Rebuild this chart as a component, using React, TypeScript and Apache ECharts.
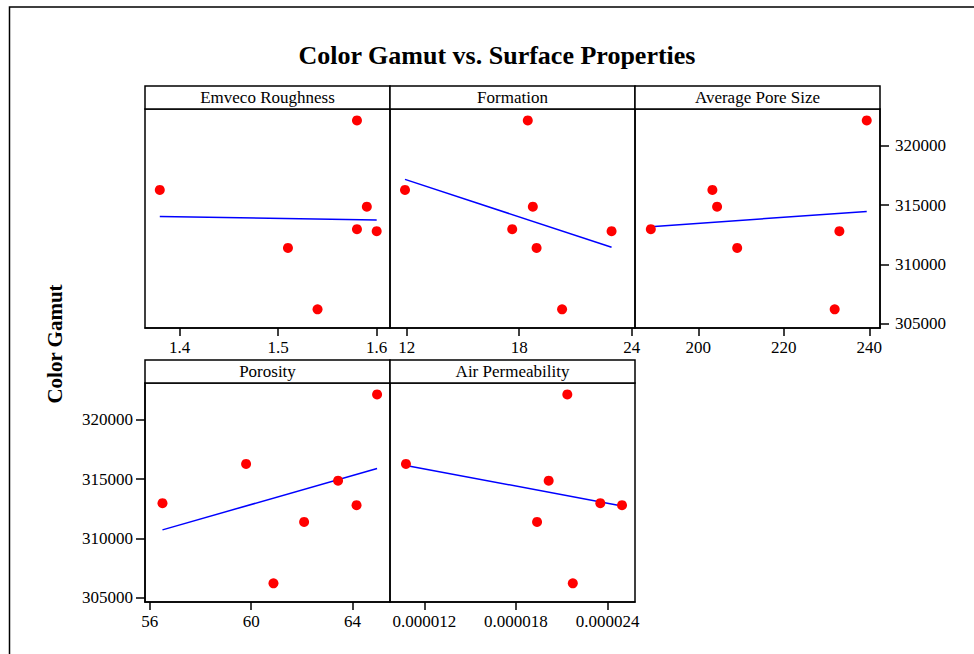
import React, { useEffect, useRef } from "react";
import * as echarts from "echarts";

// Response values (one per observation)
const colorGamut = [322120, 316270, 314860, 312970, 312800, 311390, 306220];

// Predictor values (same observation order)
const emvecoRoughness = [1.58, 1.38, 1.59, 1.58, 1.6, 1.51, 1.54];
const formation = [18.46, 11.91, 18.73, 17.63, 22.93, 18.93, 20.29];
const averagePoreSize = [239.4, 203.3, 204.4, 188.9, 233.0, 209.1, 231.9];
const porosity = [64.97, 59.8, 63.43, 56.5, 64.16, 62.09, 60.88];
const airPermeability = [0.00002136, 0.0000108, 0.00002014, 0.00002352, 0.00002494, 0.00001938, 0.00002172];

// Fitted line end points
const fitEmveco = [[1.38, 314040], [1.6, 313730]];
const fitFormation = [[11.91, 317160], [22.93, 311440]];
const fitPore = [[188.9, 313170], [239.4, 314460]];
const fitPorosity = [[56.5, 310720], [64.97, 315890]];
const fitAir = [[0.0000108, 316140], [0.00002494, 312730]];

// Panel names and tick labels
const panelNames = ["Emveco Roughness", "Formation", "Average Pore Size", "Porosity", "Air Permeability"];
const ticksEmveco = [1.4, 1.5, 1.6];
const ticksFormation = [12, 18, 24];
const ticksPore = [200, 220, 240];
const ticksPorosity = [56, 60, 64];
const ticksAir = [0.000012, 0.000018, 0.000024];
const ticksGamut = [305000, 310000, 315000, 320000];

const FONT = "'Liberation Serif', 'Times New Roman', serif";

export default function App() {
  const ref = useRef<HTMLDivElement>(null);

  useEffect(() => {
    if (!ref.current) return;
    const chart = echarts.init(ref.current, null, { renderer: "svg" });

    const panels = [
      { x: emvecoRoughness, fit: fitEmveco, ticks: ticksEmveco, dec: 1, min: 1.365, max: 1.6135 },
      { x: formation, fit: fitFormation, ticks: ticksFormation, dec: 0, min: 11.11, max: 24.18 },
      { x: averagePoreSize, fit: fitPore, ticks: ticksPore, dec: 0, min: 185.2, max: 242.5 },
      { x: porosity, fit: fitPorosity, ticks: ticksPorosity, dec: 0, min: 55.81, max: 65.48 },
      { x: airPermeability, fit: fitAir, ticks: ticksAir, dec: 6, min: 0.000009755, max: 0.00002579 },
    ];

    const gridBoxes = [
      { left: 145, top: 109 },
      { left: 390, top: 109 },
      { left: 635, top: 109 },
      { left: 145, top: 383 },
      { left: 390, top: 383 },
    ];
    const W = 245;
    const H = 219;
    const HEAD = 23;

    const grid = gridBoxes.map((g) => ({
      left: g.left,
      top: g.top,
      width: W,
      height: H,
      show: true,
      borderColor: "#000",
      borderWidth: 1.5,
      backgroundColor: "transparent",
      outerBoundsMode: "none",
      containLabel: false,
    }));

    const xAxis = panels.map((p, i) => ({
      type: "value",
      gridIndex: i,
      min: p.min,
      max: p.max,
      splitLine: { show: false },
      axisLine: { show: true, onZero: false, lineStyle: { color: "#000", width: 1.5 } },
      axisTick: {
        show: true,
        inside: false,
        length: 8,
        lineStyle: { color: "#000", width: 1.5 },
        customValues: p.ticks,
      },
      axisLabel: {
        show: true,
        customValues: p.ticks,
        margin: 11,
        color: "#000",
        fontFamily: FONT,
        fontSize: 17,
        formatter: (v: number) => v.toFixed(p.dec),
      },
    }));

    const yAxis = panels.map((_, i) => {
      const showRight = i === 2;
      const showLeft = i === 3;
      const visible = showRight || showLeft;
      return {
        type: "value",
        gridIndex: i,
        min: 304650,
        max: 323080,
        position: showRight ? "right" : "left",
        splitLine: { show: false },
        axisLine: { show: visible, onZero: false, lineStyle: { color: "#000", width: 1.5 } },
        axisTick: {
          show: visible,
          inside: false,
          length: 9,
          lineStyle: { color: "#000", width: 1.5 },
          customValues: ticksGamut,
        },
        axisLabel: {
          show: visible,
          customValues: ticksGamut,
          margin: showRight ? 15 : 12,
          color: "#000",
          fontFamily: FONT,
          fontSize: 17,
          formatter: (v: number) => String(Math.round(v)),
        },
      };
    });

    const series: any[] = [];
    panels.forEach((p, i) => {
      series.push({
        type: "line",
        xAxisIndex: i,
        yAxisIndex: i,
        data: p.fit,
        symbol: "none",
        lineStyle: { color: "#0000FF", width: 1.5 },
        z: 2,
        silent: true,
      });
      series.push({
        type: "scatter",
        xAxisIndex: i,
        yAxisIndex: i,
        data: p.x.map((xv, k) => [xv, colorGamut[k]]),
        symbol: "circle",
        symbolSize: 10,
        itemStyle: { color: "#FF0000", opacity: 1 },
        z: 3,
        silent: true,
      });
    });

    const graphic: any[] = [
      {
        type: "rect",
        shape: { x: 9.5, y: 7, width: 1000, height: 700 },
        style: { fill: "none", stroke: "#000", lineWidth: 1.5 },
        silent: true,
        z: 0,
      },
      {
        type: "text",
        x: 497,
        y: 55,
        style: {
          text: "Color Gamut vs. Surface Properties",
          font: `bold 26px ${FONT}`,
          fill: "#000",
          textAlign: "center",
          textVerticalAlign: "middle",
        },
      },
      {
        type: "text",
        x: 55,
        y: 344,
        rotation: Math.PI / 2,
        style: {
          text: "Color Gamut",
          font: `bold 21px ${FONT}`,
          fill: "#000",
          textAlign: "center",
          textVerticalAlign: "middle",
        },
      },
    ];

    gridBoxes.forEach((g, i) => {
      graphic.push({
        type: "rect",
        shape: { x: g.left, y: g.top - HEAD, width: W, height: HEAD },
        style: { fill: "#fff", stroke: "#000", lineWidth: 1.5 },
        silent: true,
      });
      graphic.push({
        type: "text",
        x: g.left + W / 2,
        y: g.top - HEAD / 2,
        style: {
          text: panelNames[i],
          font: `17px ${FONT}`,
          fill: "#000",
          textAlign: "center",
          textVerticalAlign: "middle",
        },
        silent: true,
      });
    });

    chart.setOption({
      animation: false,
      backgroundColor: "#fff",
      grid,
      xAxis,
      yAxis,
      series,
      graphic,
    });

    return () => {
      chart.dispose();
    };
  }, []);

  return (
    <div
      ref={ref}
      style={{ position: "absolute", left: 0, top: 0, width: 974, height: 654 }}
    />
  );
}
